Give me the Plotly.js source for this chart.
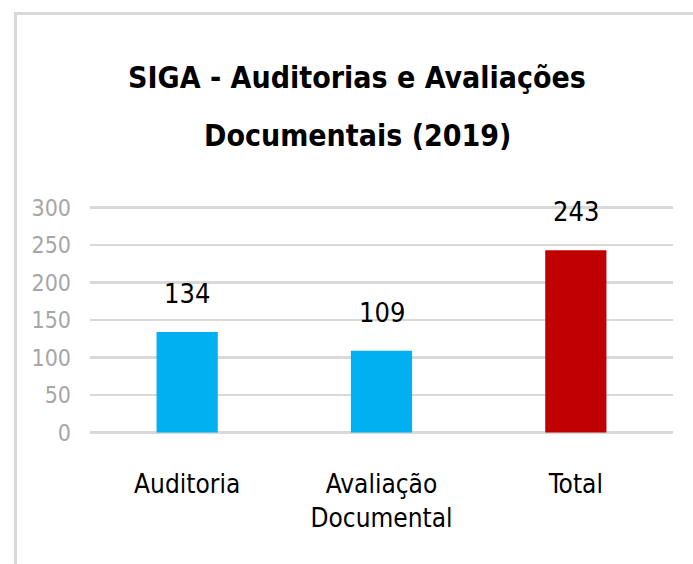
<!DOCTYPE html>
<html>
<head>
<meta charset="utf-8">
<script src="https://cdn.plot.ly/plotly-3.0.1.min.js"></script>
<style>
html,body{margin:0;padding:0;background:#fff;}
#chart{width:693px;height:564px;}
</style>
</head>
<body>
<div id="chart"></div>
<script>
const categories = ["Auditoria", "Avaliação<br>Documental", "Total"];
const values = [134, 109, 243];
const barColors = ["#00B0F0", "#00B0F0", "#C00000"];
const yTicks = [0, 50, 100, 150, 200, 250, 300];
const titleLine1 = "SIGA - Auditorias e Avaliações";
const titleLine2 = "Documentais (2019)";

const FONT = "'DejaVu Sans Condensed', 'Liberation Sans Narrow', sans-serif";

const trace = {
  type: "bar",
  x: categories,
  y: values,
  marker: {color: barColors},
  width: 0.315,
  hoverinfo: "x+y"
};

// plot area geometry (pixels)
const L = 90, T = 206, W = 583, H = 228;
const px2x = p => (p - L) / W;
const py2y = p => (T + H - p) / H;

const annotations = categories.map((c, i) => ({
  x: c, y: values[i], xref: "x", yref: "y",
  text: String(values[i]), showarrow: false,
  yanchor: "bottom", yshift: 21,
  font: {family: FONT, size: 27, color: "#000"}
}));
annotations.push({
  x: px2x(357), y: py2y(135), xref: "paper", yref: "paper",
  xanchor: "center", yanchor: "middle", showarrow: false,
  text: "<b>" + titleLine2 + "</b>",
  font: {family: FONT, size: 30, color: "#000"}
});

const layout = {
  width: 693, height: 564,
  margin: {l: L, r: 693 - L - W, t: T, b: 564 - T - H, pad: 0},
  paper_bgcolor: "#fff", plot_bgcolor: "#fff",
  showlegend: false,
  title: {
    text: "<b>" + titleLine1 + "</b>",
    font: {family: FONT, size: 30, color: "#000"},
    x: 357 / 693, xref: "container", xanchor: "center",
    y: 1 - 77 / 564, yref: "container", yanchor: "middle"
  },
  xaxis: {
    type: "category",
    showgrid: false, zeroline: false, showline: false,
    ticks: "", ticklabelstandoff: 32,
    tickfont: {family: FONT, size: 26, color: "#000"}
  },
  yaxis: {
    range: [-2, 302],
    tickvals: yTicks,
    showgrid: true, gridcolor: "#d9d9d9", gridwidth: 2.5,
    zeroline: false, showline: false, ticks: "",
    ticklabelstandoff: 18,
    tickfont: {family: FONT, size: 23, color: "#a6a6a6"}
  },
  annotations: annotations,
  shapes: [
    {type: "line", xref: "paper", yref: "paper",
     x0: px2x(15.5), x1: px2x(15.5), y0: py2y(12), y1: py2y(570),
     line: {color: "#d9d9d9", width: 3}},
    {type: "line", xref: "paper", yref: "paper",
     x0: px2x(14), x1: px2x(700), y0: py2y(13.5), y1: py2y(13.5),
     line: {color: "#d9d9d9", width: 3}}
  ],
  bargap: 0.5
};

Plotly.newPlot("chart", [trace], layout, {displayModeBar: false, staticPlot: true});
</script>
</body>
</html>
